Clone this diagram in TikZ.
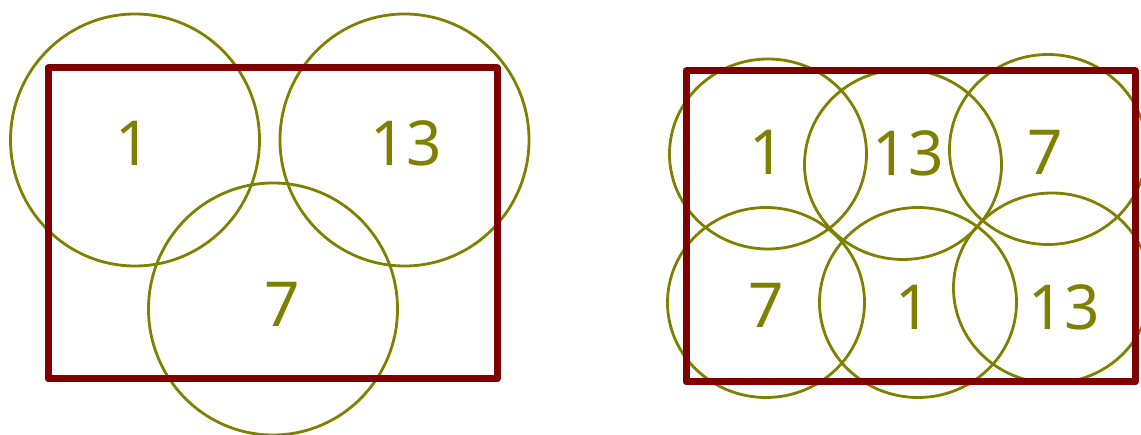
\documentclass[tikz,border=0pt]{standalone}
\usepackage{fontspec}
\setmainfont{Noto Sans}
\definecolor{boxred}{HTML}{800000}
\definecolor{ringol}{HTML}{808000}
\begin{document}
\begin{tikzpicture}[x=1pt,y=-1pt,
  ring/.style={draw=ringol,line width=2.8pt},
  frame/.style={draw=boxred,line width=7pt,line join=round},
  num/.style={text=ringol,font=\fontsize{62}{62}\selectfont,inner sep=0pt,anchor=center}]
\useasboundingbox (0,0) rectangle (1141,435);
% left group
\draw[ring] (135,140) ellipse [x radius=124.5,y radius=126];
\draw[ring] (404.5,140) ellipse [x radius=124.5,y radius=126];
\draw[ring] (273,309) ellipse [x radius=124.5,y radius=126];
\draw[frame] (48,68) rectangle (497,379);
\node[num] (l1) at (133,143) {1};
\node[num] (l13) at (406,143) {13};
\node[num] (l7) at (282,304) {7};
% right group
\draw[ring] (768,154) ellipse [x radius=98.5,y radius=95];
\draw[ring] (903,164.5) ellipse [x radius=98.5,y radius=95];
\draw[ring] (1048,149.5) ellipse [x radius=98.5,y radius=95];
\draw[ring] (766,302.5) ellipse [x radius=98.5,y radius=95];
\draw[ring] (918,302.5) ellipse [x radius=98.5,y radius=95];
\draw[ring] (1052,288) ellipse [x radius=98.5,y radius=95];
\draw[frame] (686,71) rectangle (1135,382);
\node[num] (r1) at (767,152) {1};
\node[num] (r13) at (908,153) {13};
\node[num] (r7) at (1045,152) {7};
\node[num] (s7) at (766,305) {7};
\node[num] (s1) at (913,307) {1};
\node[num] (s13) at (1064,307) {13};
\end{tikzpicture}
\end{document}
